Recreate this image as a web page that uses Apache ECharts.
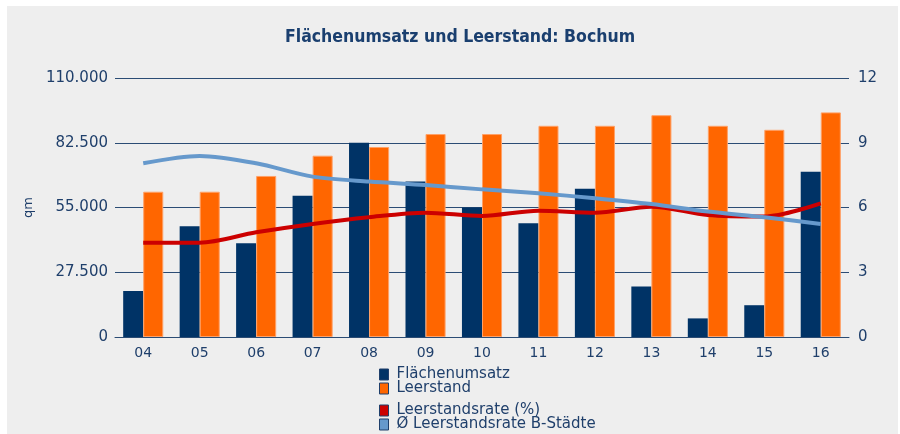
<!DOCTYPE html>
<html>
<head>
<meta charset="utf-8">
<script src="https://cdn.jsdelivr.net/npm/echarts@6/dist/echarts.min.js"></script>
<style>
html,body{margin:0;padding:0;background:#ffffff;}
#c{position:absolute;left:7px;top:6px;width:891px;height:428px;background:#eeeeee;}
</style>
</head>
<body>
<div id="c"></div>
<script>
var categories = ['04','05','06','07','08','09','10','11','12','13','14','15','16'];
var flaechenumsatz = [19500, 47000, 39800, 60000, 82500, 66000, 55000, 48300, 63000, 21400, 7900, 13500, 70200];
var leerstand = [61700, 61700, 68400, 77000, 80700, 86200, 86200, 89700, 89700, 94200, 89700, 88000, 95400];
var leerstandsrate = [4.37, 4.37, 4.85, 5.24, 5.55, 5.76, 5.61, 5.85, 5.76, 6.04, 5.65, 5.58, 6.19];
var leerstandsrateB = [8.05, 8.39, 8.05, 7.43, 7.2, 7.04, 6.84, 6.66, 6.43, 6.16, 5.81, 5.55, 5.24];
var leftTicks = [0, 27500, 55000, 82500, 110000];
var rightTicks = [0, 3, 6, 9, 12];

var txt = '#1f3f6b';
var font = 'DejaVu Sans';
function fmt(v){ return String(v).replace(/\B(?=(\d{3})+(?!\d))/g, '.'); }

var legendText = {color: txt, fontFamily: font, fontSize: 15, lineHeight: 14, padding: [0,0,0,3]};
var legendIcon = {borderColor: '#1f3f6b', borderWidth: 1};

var chart = echarts.init(document.getElementById('c'), null, {renderer:'canvas'});
chart.setOption({
  backgroundColor: '#eeeeee',
  animation: false,
  title: {
    text: 'Flächenumsatz und Leerstand: Bochum',
    left: 278,
    top: 22,
    padding: 0,
    textStyle: {color: '#1a3f6f', fontFamily: 'DejaVu Sans Condensed', fontWeight: 'bold', fontSize: 17.5}
  },
  grid: {left: 108, right: 49, top: 72, bottom: 97, containLabel: false},
  legend: [{
    orient: 'vertical', left: 372, top: 361, padding: 0, itemGap: -1, itemWidth: 9, itemHeight: 11,
    icon: 'rect',
    data: ['Flächenumsatz', 'Leerstand'],
    textStyle: legendText,
    itemStyle: legendIcon
  }, {
    orient: 'vertical', left: 372, top: 397, padding: 0, itemGap: -1, itemWidth: 9, itemHeight: 11,
    icon: 'rect',
    data: ['Leerstandsrate (%)', 'Ø Leerstandsrate B-Städte'],
    textStyle: legendText,
    itemStyle: legendIcon
  }],
  xAxis: {
    type: 'category',
    data: categories,
    axisLine: {lineStyle: {color: '#2b4c74', width: 1}},
    axisTick: {show: false},
    axisLabel: {color: txt, fontFamily: font, fontSize: 14, margin: 9}
  },
  yAxis: [{
    type: 'value', min: 0, max: 110000, interval: 27500,
    name: 'qm', nameLocation: 'middle', nameGap: 71, nameRotate: 90,
    nameTextStyle: {color: txt, fontFamily: font, fontSize: 13},
    axisLine: {show: false}, axisTick: {show: false},
    axisLabel: {color: txt, fontFamily: font, fontSize: 15, margin: 7, formatter: fmt},
    splitLine: {lineStyle: {color: '#2b4c74', width: 1}}
  }, {
    type: 'value', min: 0, max: 12, interval: 3, position: 'right',
    axisLine: {show: false}, axisTick: {show: false},
    axisLabel: {color: txt, fontFamily: font, fontSize: 15, margin: 9},
    splitLine: {show: false}
  }],
  series: [{
    name: 'Flächenumsatz', type: 'bar', data: flaechenumsatz,
    barGap: '0%', barCategoryGap: '29%',
    itemStyle: {color: '#003366'}
  }, {
    name: 'Leerstand', type: 'bar', data: leerstand,
    barGap: '0%', barCategoryGap: '29%',
    itemStyle: {color: '#ff6600', borderColor: '#ffa066', borderWidth: 1}
  }, {
    name: 'Leerstandsrate (%)', type: 'line', yAxisIndex: 1, data: leerstandsrate,
    smooth: 0.3, symbol: 'none',
    lineStyle: {color: '#cc0000', width: 4},
    itemStyle: {color: '#cc0000'}
  }, {
    name: 'Ø Leerstandsrate B-Städte', type: 'line', yAxisIndex: 1, data: leerstandsrateB,
    smooth: 0.3, symbol: 'none',
    lineStyle: {color: '#6699cc', width: 4},
    itemStyle: {color: '#6699cc'}
  }]
});
</script>
</body>
</html>
